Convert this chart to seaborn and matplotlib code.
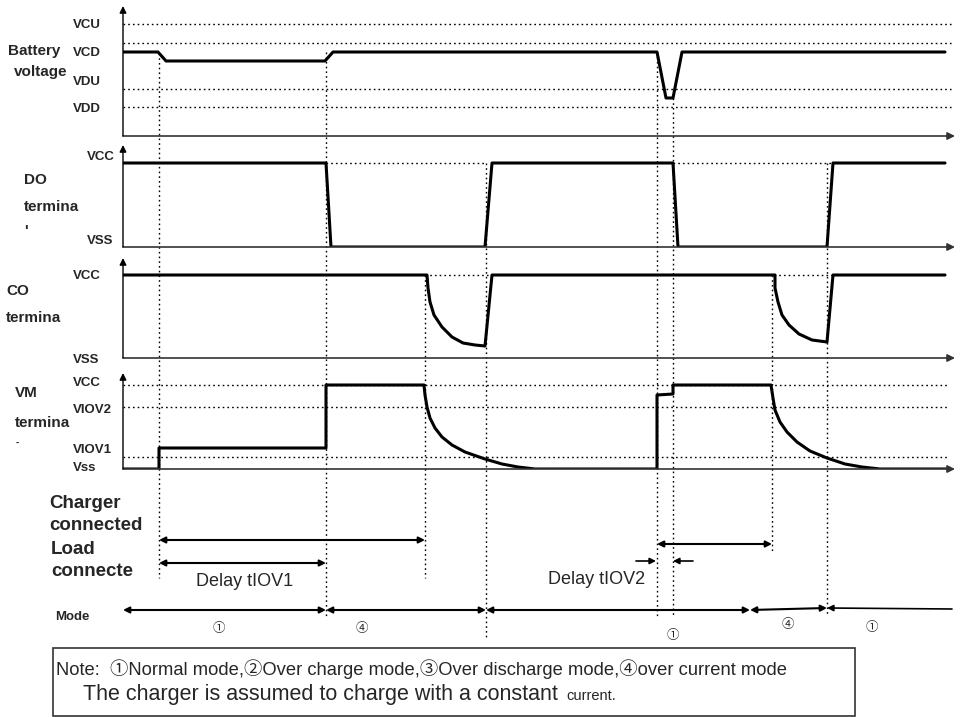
import numpy as np
import pandas as pd
import matplotlib
matplotlib.use("Agg")
import matplotlib.pyplot as plt
import seaborn as sns
from matplotlib.patches import Rectangle

sns.set_style("white")
plt.rcParams["font.family"] = ["Liberation Sans", "Noto Sans CJK SC", "DejaVu Sans"]

# ---- data: time in arbitrary units from the time-axis origin, levels in arbitrary units
batt_t = [0, 35, 43, 202, 210, 534, 543, 550, 559, 822]
batt_v = [84, 84, 75, 75, 84, 84, 38, 38, 84, 84]
batt_refs = {"VCU": 112, "VCD": 93, "VDU": 47, "VDD": 29}

do_t = [0, 203, 208, 362, 369, 550, 555, 704, 710, 822]
do_v = [84, 84, 0, 0, 84, 84, 0, 0, 84, 84]
do_refs = {"VCC": 84, "VSS": 0}

co_t = [0, 304, 305, 307, 311, 319, 329, 340, 352, 362,
        369, 652, 652, 655, 659, 666, 676, 689, 704, 710, 822]
co_v = [83, 83, 70, 56, 43, 31, 21, 15, 13, 12,
        83, 83, 70, 56, 43, 33, 24, 18, 16, 83, 83]
co_refs = {"VCC": 83, "VSS": 0}

vm_t = [0, 36, 36, 203, 203,
        301, 302, 304, 307, 312, 319, 329, 342, 362, 379, 395, 412,
        534, 534, 550, 550,
        648, 650, 652, 657, 664, 674, 687, 704, 722, 739, 757, 825]
vm_v = [0, 0, 21, 21, 84,
        84, 74, 62, 51, 41, 32, 24, 17, 10, 5, 2, 0,
        0, 74, 75, 84,
        84, 71, 59, 47, 37, 27, 18, 11, 5, 2, 0, 0]
vm_refs = {"VCC": 84, "VIOV2": 62, "VIOV1": 12, "Vss": 0}

event_t = [36, 203, 302, 363, 534, 550, 649, 704]
charger_span = (36, 302)
load_span = (36, 203)
delay2_span = (534, 649)
mode_bounds = [0, 203, 363, 627, 704, 829]
mode_labels = ["\u2460", "\u2463", "\u2460", "\u2463", "\u2460"]

W, H = 960, 717
X0, X1 = 123, 955
fig = plt.figure(figsize=(W / 100, H / 100), dpi=100)


def fx(x):
    return x / W


def fy(y):
    return 1 - y / H


# overlay axes: x in time units, y in pixel rows
ov = fig.add_axes([0, 0, 1, 1])
ov.set_xlim(-X0, W - X0)
ov.set_ylim(H, 0)
ov.set_axis_off()

dot = (0, (1.2, 2.2))
event_rows = [(53, 578), (52, 618), (275, 578), (163, 638),
              (52, 618), (98, 617), (275, 552), (163, 615)]
for t, (ya, yb) in zip(event_t, event_rows):
    ov.plot([t, t], [ya, yb], color="black", lw=1, ls=dot)

# panels: (baseline row, top row)
panels = [
    (136, 6, batt_t, batt_v),
    (247, 145, do_t, do_v),
    (358, 258, co_t, co_v),
    (469, 373, vm_t, vm_v),
]
axes = []
for base, top, t, v in panels:
    ax = fig.add_axes([fx(X0), fy(base), (X1 - X0) / W, (base - top) / H])
    ax.set_xlim(0, X1 - X0)
    ax.set_ylim(0, base - top)
    ax.patch.set_alpha(0)
    ax.set_axis_off()
    ax.annotate("", xy=(1, 0), xytext=(0, 0), xycoords="axes fraction",
                arrowprops=dict(arrowstyle="-|>", color="#333333", lw=1.2,
                                mutation_scale=11, shrinkA=0, shrinkB=0))
    ax.annotate("", xy=(0, 1), xytext=(0, 0), xycoords="axes fraction",
                arrowprops=dict(arrowstyle="-|>", color="black", lw=1,
                                mutation_scale=10, shrinkA=0, shrinkB=0))
    axes.append(ax)

ax_b, ax_do, ax_co, ax_vm = axes

for lvl in batt_refs.values():
    ax_b.plot([0, 830], [lvl, lvl], color="black", lw=1, ls=dot)
for lvl in [vm_refs["VCC"], vm_refs["VIOV2"], vm_refs["VIOV1"]]:
    ax_vm.plot([0, 825], [lvl, lvl], color="black", lw=1, ls=dot)
for a, b in [(203, 362), (550, 710)]:
    ax_do.plot([a, b], [do_refs["VCC"]] * 2, color="black", lw=1, ls=dot)
for a, b in [(302, 369), (651, 710)]:
    ax_co.plot([a, b], [co_refs["VCC"]] * 2, color="black", lw=1, ls=dot)

for ax, (_, _, t, v) in zip(axes, panels):
    df = pd.DataFrame({"t": t, "v": v})
    sns.lineplot(data=df, x="t", y="v", estimator=None, sort=False,
                 color="black", linewidth=2.2, ax=ax)
    ax.set_axis_off()

# ---- labels
bold = dict(fontweight="bold", va="center", ha="left")
lv = 9.5
for txt, y in [("VCU", 25), ("VCD", 53), ("VDU", 82), ("VDD", 109)]:
    fig.text(fx(73), fy(y), txt, fontsize=lv, **bold)
fig.text(fx(8), fy(51), "Battery", fontsize=11, **bold)
fig.text(fx(14), fy(72), "voltage", fontsize=11, **bold)

fig.text(fx(87), fy(157), "VCC", fontsize=lv, **bold)
fig.text(fx(87), fy(241), "VSS", fontsize=lv, **bold)
fig.text(fx(24), fy(180), "DO", fontsize=11, **bold)
fig.text(fx(24), fy(207), "termina", fontsize=11, **bold)
fig.text(fx(24), fy(231), "'", fontsize=11, **bold)

fig.text(fx(73), fy(276), "VCC", fontsize=lv, **bold)
fig.text(fx(73), fy(360), "VSS", fontsize=lv, **bold)
fig.text(fx(6), fy(291), "CO", fontsize=11, **bold)
fig.text(fx(6), fy(318), "termina", fontsize=11, **bold)

fig.text(fx(73), fy(383), "VCC", fontsize=lv, **bold)
fig.text(fx(73), fy(410), "VIOV2", fontsize=lv, **bold)
fig.text(fx(73), fy(450), "VIOV1", fontsize=lv, **bold)
fig.text(fx(73), fy(468), "Vss", fontsize=lv, **bold)
fig.text(fx(15), fy(393), "VM", fontsize=11, **bold)
fig.text(fx(15), fy(423), "termina", fontsize=11, **bold)
fig.text(fx(16), fy(443), "-", fontsize=7, **bold)

fig.text(fx(49), fy(504), "Charger", fontsize=13.5, **bold)
fig.text(fx(49), fy(526), "connected", fontsize=13.5, **bold)
fig.text(fx(51), fy(549), "Load", fontsize=13.5, **bold)
fig.text(fx(51), fy(571), "connecte", fontsize=13.5, **bold)
fig.text(fx(55), fy(617), "Mode", fontsize=9.5, **bold)

fig.text(fx(196), fy(581), "Delay tIOV1", fontsize=13, va="center")
fig.text(fx(548), fy(579), "Delay tIOV2", fontsize=13, va="center")

# ---- arrows
both = dict(arrowstyle="<|-|>", color="black", lw=1.5, mutation_scale=9,
            shrinkA=0, shrinkB=0)
one = dict(arrowstyle="-|>", color="black", lw=1.2, mutation_scale=9,
           shrinkA=0, shrinkB=0)
ov.annotate("", xy=(charger_span[1], 540), xytext=(charger_span[0], 540), arrowprops=both)
ov.annotate("", xy=(load_span[1], 563), xytext=(load_span[0], 563), arrowprops=both)
ov.annotate("", xy=(delay2_span[1], 544), xytext=(delay2_span[0], 544), arrowprops=both)
ov.annotate("", xy=(delay2_span[0] - 1, 561), xytext=(delay2_span[0] - 21, 561), arrowprops=one)
ov.annotate("", xy=(550, 561), xytext=(570, 561), arrowprops=one)

mode_rows = [(610, 610), (610, 610), (610, 610), (610, 608), (608, 609)]
for i, (a, b) in enumerate(zip(mode_bounds[:-1], mode_bounds[1:])):
    ya, yb = mode_rows[i]
    style = both if i < len(mode_rows) - 1 else dict(one, arrowstyle="<|-")
    ov.annotate("", xy=(b, yb), xytext=(a, ya), arrowprops=style)

for lab, (x, y) in zip(mode_labels, [(219, 629), (362, 629), (673, 636), (788, 625), (872, 628)]):
    fig.text(fx(x), fy(y), lab, fontsize=9, ha="center", va="center")

# ---- note box
ov.add_patch(Rectangle((53 - X0, 648), 855 - 53, 68, fill=False, lw=1.2,
                       edgecolor="#333333"))
fig.text(fx(56), fy(669),
         "Note:  \u2460Normal mode,\u2461Over charge mode,\u2462Over discharge mode,\u2463over current mode",
         fontsize=13.2, va="center")
fig.text(fx(83), fy(700), "The charger is assumed to charge with a constant",
         fontsize=15.5, va="baseline")
fig.text(fx(566), fy(700), "current.", fontsize=10.5, va="baseline")

fig.savefig("out.png", dpi=100)
